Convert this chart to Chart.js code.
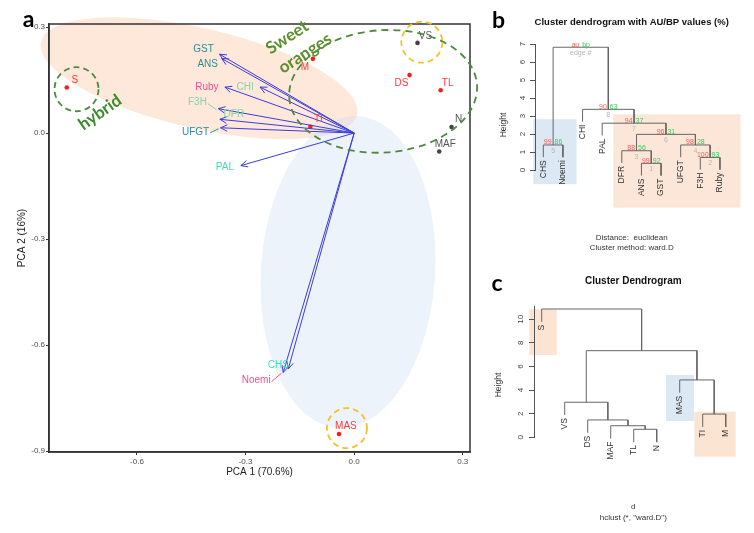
<!DOCTYPE html>
<html>
<head>
<meta charset="utf-8">
<title>PCA biplot and cluster dendrograms</title>
<script src="https://cdn.jsdelivr.net/npm/chart.js@4.4.1/dist/chart.umd.min.js"></script>
<style>
  html, body { margin: 0; padding: 0; background: #fff; }
  #wrap { position: relative; width: 754px; height: 533px; overflow: hidden; }
  canvas { position: absolute; }
  #pcaChart { left: 0; top: 0; }
  #dendroB { left: 490px; top: 0; }
  #dendroC { left: 490px; top: 260px; }
</style>
</head>
<body>
<div id="wrap">
  <canvas id="pcaChart" width="490" height="533"></canvas>
  <canvas id="dendroB" width="264" height="260"></canvas>
  <canvas id="dendroC" width="264" height="273"></canvas>
</div>
<script>
const FONT = '"Liberation Sans", Arial, sans-serif';
const LETTER_FONT = 'Lato, "Liberation Sans", sans-serif';

// ---- panel a: PCA scores (cultivars) ----
const sampleNames = ['S', 'M', 'TI', 'DS', 'TL', 'VS', 'N', 'MAF', 'MAS'];
const samplePC1 = [-0.794, -0.114, -0.121, 0.153, 0.239, 0.175, 0.269, 0.235, -0.042];
const samplePC2 = [0.129, 0.210, 0.018, 0.164, 0.121, 0.255, 0.017, -0.052, -0.851];
const sampleGroup = ['red', 'red', 'red', 'red', 'red', 'grey', 'grey', 'grey', 'red'];

// ---- panel a: loadings (genes / anthocyanin) ----
const varNames = ['GST', 'ANS', 'Ruby', 'CHI', 'F3H', 'DFR', 'UFGT', 'PAL', 'CHS', 'Noemi'];
const varPC1 = [-0.372, -0.366, -0.357, -0.260, -0.375, -0.371, -0.369, -0.313, -0.182, -0.196];
const varPC2 = [0.223, 0.211, 0.130, 0.130, 0.069, 0.039, 0.015, -0.092, -0.667, -0.677];

const pcaXTicks = [-0.6, -0.3, 0, 0.3];
const pcaYTicks = [-0.9, -0.6, -0.3, 0, 0.3];

// ---- panel b: gene dendrogram (pvclust) ----
const leavesB = ['CHS', 'Noemi', 'CHI', 'PAL', 'DFR', 'ANS', 'GST', 'UFGT', 'F3H', 'Ruby'];
const mergeB = [[-6, -7], [-9, -10], [-5, 1], [-8, 2], [-1, -2], [3, 4], [-4, 6], [-3, 7], [5, 8]];
const heightB = [0.37, 0.70, 1.07, 1.39, 1.39, 1.98, 2.60, 3.37, 6.82];
const auB = [99, 100, 88, 98, 99, 96, 94, 90];
const bpB = [92, 93, 56, 28, 86, 31, 37, 63];
const heightTicksB = [0, 1, 2, 3, 4, 5, 6, 7];

// ---- panel c: cultivar dendrogram (hclust ward.D) ----
const leavesC = ['S', 'VS', 'DS', 'MAF', 'TL', 'N', 'MAS', 'TI', 'M'];
const mergeC = [[-5, -6], [-4, 1], [-3, 2], [-8, -9], [-2, 3], [-7, 4], [5, 6], [-1, 7]];
const heightC = [0.68, 0.98, 1.47, 1.97, 2.97, 4.86, 7.34, 10.87];
const heightTicksC = [0, 2, 4, 6, 8, 10];

// ---- styling for panel a ----
const sampleColor = { red: '#ff1a1a', grey: '#444444' };
const sampleTextColor = { red: '#ff3b3b', grey: '#555555' };
const sampleLabelOffset = {
    S: [8, -7], M: [-8, 8], TI: [8, -7], DS: [-8, 8], TL: [7, -7],
    VS: [8, -7], N: [7, -8], MAF: [6, -7], MAS: [7, -8]
};
const TEAL = '#2e8b98', MINT = '#86d3a6', PINK = '#ee4f93', AQUA = '#3cdabf';
const varLabelStyle = {
    GST: { dx: -16, dy: -5, color: TEAL },
    ANS: { dx: -14, dy: 6, color: TEAL },
    Ruby: { dx: -18, dy: 0, color: PINK },
    CHI: { dx: -15, dy: 0, color: MINT },
    F3H: { dx: -21, dy: -6, color: MINT, link: true },
    DFR: { dx: 14, dy: -5, color: MINT },
    UFGT: { dx: -25, dy: 4, color: TEAL, link: true },
    PAL: { dx: -16, dy: 2, color: AQUA },
    CHS: { dx: -10, dy: -4, color: AQUA },
    Noemi: { dx: -27, dy: 8, color: PINK, link: true }
};

const shadedEllipses = [
    { cx: -0.4285, cy: 0.155, rx: 0.448, ry: 0.1416, rot: 13, fill: 'rgba(250,200,165,0.42)' },
    { cx: -0.017, cy: -0.393, rx: 0.2405, ry: 0.442, rot: 3.7, fill: 'rgba(200,222,240,0.35)' }
];
const dashedEllipses = [
    { cx: 0.080, cy: 0.118, rx: 0.26, ry: 0.173, rot: -4, color: '#4b8b3b', dash: [7, 5] },
    { cx: -0.767, cy: 0.124, rx: 0.0608, ry: 0.0623, rot: 0, color: '#4b8b3b', dash: [6, 4] },
    { cx: 0.187, cy: 0.257, rx: 0.0567, ry: 0.058, rot: 0, color: '#f6c02a', dash: [6, 4] },
    { cx: -0.020, cy: -0.8346, rx: 0.0553, ry: 0.0567, rot: 0, color: '#f6c02a', dash: [6, 4] }
];
const groupNotes = [
    { text: 'hybrid', x: -0.702, y: 0.0586, rot: -35, color: '#3c8c2c' },
    { text: 'Sweet', x: -0.185, y: 0.271, rot: -33, color: '#5b8f2d' },
    { text: 'oranges', x: -0.1355, y: 0.2258, rot: -33, color: '#5b8f2d' }
];

function text(ctx, str, x, y, font, color, align, rot) {
    ctx.save();
    ctx.translate(x, y);
    if (rot) ctx.rotate(rot * Math.PI / 180);
    ctx.font = font;
    ctx.fillStyle = color;
    ctx.textAlign = align || 'center';
    ctx.textBaseline = 'middle';
    ctx.fillText(str, 0, 0);
    ctx.restore();
}

function ellipsePath(ctx, chart, e) {
    const xs = chart.scales.x, ys = chart.scales.y;
    const cx = xs.getPixelForValue(e.cx), cy = ys.getPixelForValue(e.cy);
    const rx = Math.abs(xs.getPixelForValue(e.cx + e.rx) - cx);
    const ry = Math.abs(ys.getPixelForValue(e.cy + e.ry) - cy);
    ctx.beginPath();
    ctx.ellipse(cx, cy, rx, ry, e.rot * Math.PI / 180, 0, Math.PI * 2);
}

function arrowHead(ctx, x0, y0, x1, y1) {
    const a = Math.atan2(y1 - y0, x1 - x0), len = 7.5, ang = 0.45;
    ctx.beginPath();
    ctx.moveTo(x1 - len * Math.cos(a - ang), y1 - len * Math.sin(a - ang));
    ctx.lineTo(x1, y1);
    ctx.lineTo(x1 - len * Math.cos(a + ang), y1 - len * Math.sin(a + ang));
    ctx.stroke();
}

const pcaDecor = {
    id: 'pcaDecor',
    beforeDraw(chart) {
        const ctx = chart.ctx;
        ctx.save();
        shadedEllipses.forEach(function (e) {
            ellipsePath(ctx, chart, e);
            ctx.fillStyle = e.fill;
            ctx.fill();
        });
        ctx.restore();
    },
    afterDatasetsDraw(chart) {
        const ctx = chart.ctx;
        const xs = chart.scales.x, ys = chart.scales.y;
        const area = chart.chartArea;
        const ox = xs.getPixelForValue(0), oy = ys.getPixelForValue(0);

        ctx.save();
        ctx.strokeStyle = '#333';
        ctx.lineWidth = 1.5;
        ctx.strokeRect(area.left, area.top, area.right - area.left, area.bottom - area.top);

        // arrow heads
        ctx.strokeStyle = '#3b3bdf';
        ctx.lineWidth = 1;
        varNames.forEach(function (n, i) {
            arrowHead(ctx, ox, oy, xs.getPixelForValue(varPC1[i]), ys.getPixelForValue(varPC2[i]));
        });

        // variable labels
        varNames.forEach(function (n, i) {
            const st = varLabelStyle[n];
            const tx = xs.getPixelForValue(varPC1[i]), ty = ys.getPixelForValue(varPC2[i]);
            const lx = tx + st.dx, ly = ty + st.dy;
            if (st.link) {
                ctx.font = '10px ' + FONT;
                const half = ctx.measureText(n).width / 2;
                ctx.strokeStyle = st.color;
                ctx.beginPath();
                ctx.moveTo(lx + half + 1, ly + 1);
                ctx.lineTo(tx - 2, ty + 1);
                ctx.stroke();
            }
            text(ctx, n, lx, ly, '10px ' + FONT, st.color);
        });

        // sample labels
        sampleNames.forEach(function (n, i) {
            const off = sampleLabelOffset[n];
            text(ctx, n, xs.getPixelForValue(samplePC1[i]) + off[0], ys.getPixelForValue(samplePC2[i]) + off[1],
                '10px ' + FONT, sampleTextColor[sampleGroup[i]]);
        });

        // dashed group outlines
        dashedEllipses.forEach(function (e) {
            ellipsePath(ctx, chart, e);
            ctx.setLineDash(e.dash);
            ctx.strokeStyle = e.color;
            ctx.lineWidth = 1.8;
            ctx.stroke();
        });
        ctx.setLineDash([]);

        groupNotes.forEach(function (g) {
            text(ctx, g.text, xs.getPixelForValue(g.x), ys.getPixelForValue(g.y), 'bold 17px ' + LETTER_FONT, g.color, 'center', g.rot);
        });

        // axis titles and panel letter
        text(ctx, 'PCA 1 (70.6%)', (area.left + area.right) / 2, 472, '10px ' + FONT, '#222');
        text(ctx, 'PCA 2 (16%)', 22, (area.top + area.bottom) / 2, '10px ' + FONT, '#222', 'center', -90);
        text(ctx, 'a', 28.5, 19.5, 'bold 23px ' + LETTER_FONT, '#000');
        ctx.restore();
    }
};

const arrowSets = varNames.map(function (n, i) {
    return {
        label: n,
        data: [{ x: 0, y: 0 }, { x: varPC1[i], y: varPC2[i] }],
        showLine: true,
        borderColor: '#3b3bdf',
        borderWidth: 1,
        pointRadius: 0,
        clip: false
    };
});

const pointSets = ['red', 'grey'].map(function (g) {
    return {
        label: g,
        data: sampleNames.map(function (n, i) {
            return { x: samplePC1[i], y: samplePC2[i], g: sampleGroup[i] };
        }).filter(function (p) { return p.g === g; }),
        pointRadius: 2.3,
        pointBackgroundColor: sampleColor[g],
        pointBorderWidth: 0,
        showLine: false
    };
});

new Chart(document.getElementById('pcaChart'), {
    type: 'scatter',
    data: { datasets: arrowSets.concat(pointSets) },
    options: {
        responsive: false,
        animation: false,
        events: [],
        layout: { padding: { left: 0, top: 24, right: 20, bottom: 61 } },
        plugins: { legend: { display: false }, tooltip: { enabled: false } },
        scales: {
            x: {
                type: 'linear', min: -0.843, max: 0.32,
                afterBuildTicks: function (s) { s.ticks = pcaXTicks.map(function (v) { return { value: v }; }); },
                afterFit: function (s) { s.height = 20; },
                ticks: {
                    color: '#4d4d4d', font: { family: FONT, size: 8 }, padding: 2, maxRotation: 0,
                    callback: function (v) { return Number(v).toFixed(1); }
                },
                grid: { drawOnChartArea: false, drawTicks: true, tickLength: 3, color: '#333' },
                border: { display: true, color: '#333', width: 1.5 }
            },
            y: {
                type: 'linear', min: -0.902, max: 0.3085,
                afterBuildTicks: function (s) { s.ticks = pcaYTicks.map(function (v) { return { value: v }; }); },
                afterFit: function (s) { s.width = 49; },
                ticks: {
                    color: '#4d4d4d', font: { family: FONT, size: 8 }, padding: 1,
                    callback: function (v) { return Number(v).toFixed(1); }
                },
                grid: { drawOnChartArea: false, drawTicks: true, tickLength: 3, color: '#333' },
                border: { display: true, color: '#333', width: 1.5 }
            }
        }
    },
    plugins: [pcaDecor]
});

// ---- dendrograms ----
function buildDendrogram(merge, height, hang) {
    const nodeX = [];
    const leafBottom = {};
    const segments = [];
    merge.forEach(function (pair, i) {
        const h = height[i];
        const ends = pair.map(function (id) {
            if (id < 0) {
                leafBottom[-id] = h - hang;
                return { x: -id, y: h - hang };
            }
            return { x: nodeX[id - 1], y: height[id - 1] };
        });
        nodeX[i] = (ends[0].x + ends[1].x) / 2;
        segments.push([ends[0], { x: ends[0].x, y: h }, { x: ends[1].x, y: h }, ends[1]]);
    });
    return { nodeX: nodeX, leafBottom: leafBottom, segments: segments };
}

function makeDendrogram(canvasId, opt) {
    const tree = buildDendrogram(opt.merge, opt.height, opt.hang);

    const decor = {
        id: 'dendroDecor',
        beforeDraw(chart) {
            const ctx = chart.ctx, xs = chart.scales.x, ys = chart.scales.y;
            ctx.save();
            opt.boxes.forEach(function (b) {
                const x0 = xs.getPixelForValue(b.x0), x1 = xs.getPixelForValue(b.x1);
                const y0 = ys.getPixelForValue(b.y0), y1 = ys.getPixelForValue(b.y1);
                ctx.fillStyle = b.fill;
                ctx.fillRect(x0, y0, x1 - x0, y1 - y0);
            });
            ctx.restore();
        },
        afterDatasetsDraw(chart) {
            const ctx = chart.ctx, xs = chart.scales.x, ys = chart.scales.y;
            const left = chart.chartArea.left;
            opt.ticks.forEach(function (v) {
                text(ctx, String(v), left - opt.tickLabelGap, ys.getPixelForValue(v), '8px ' + FONT, '#444', 'center', -90);
            });
            opt.leaves.forEach(function (name, i) {
                text(ctx, name, xs.getPixelForValue(i + 1), ys.getPixelForValue(tree.leafBottom[i + 1]) + 3,
                    '8.5px ' + FONT, '#333', 'right', -90);
            });
            text(ctx, 'Height', opt.heightPos[0], opt.heightPos[1], '8.5px ' + FONT, '#333', 'center', -90);
            if (opt.extra) opt.extra(ctx, chart, tree);
        }
    };

    const sets = tree.segments.map(function (pts) {
        return {
            data: pts, showLine: true, borderColor: '#666', borderWidth: 1,
            pointRadius: 0, clip: false
        };
    });

    return new Chart(document.getElementById(canvasId), {
        type: 'scatter',
        data: { datasets: sets },
        options: {
            responsive: false,
            animation: false,
            events: [],
            layout: { padding: opt.padding },
            plugins: { legend: { display: false }, tooltip: { enabled: false } },
            scales: {
                x: { type: 'linear', display: false, min: opt.xMin, max: opt.xMax },
                y: {
                    type: 'linear', min: 0, max: opt.yMax,
                    afterBuildTicks: function (s) { s.ticks = opt.ticks.map(function (v) { return { value: v }; }); },
                    afterFit: function (s) { s.width = opt.axisWidth; },
                    ticks: { display: false },
                    grid: { drawOnChartArea: false, drawTicks: true, tickLength: 5, color: '#555' },
                    border: { display: true, color: '#555', width: 1 }
                }
            }
        },
        plugins: [decor]
    });
}

makeDendrogram('dendroB', {
    leaves: leavesB, merge: mergeB, height: heightB, hang: 0.68,
    ticks: heightTicksB, yMax: 7, xMin: 0.577, xMax: 10.36,
    padding: { left: 0, top: 44, right: 27, bottom: 90 }, axisWidth: 45,
    tickLabelGap: 12, heightPos: [14, 125],
    boxes: [
        { x0: 0.49, x1: 2.7, y0: 2.82, y1: -0.79, fill: 'rgba(205,222,240,0.7)' },
        { x0: 4.566, x1: 11.05, y0: 3.09, y1: -2.09, fill: 'rgba(250,205,175,0.5)' }
    ],
    extra: function (ctx, chart, tree) {
        const xs = chart.scales.x, ys = chart.scales.y;
        const f = '7px ' + FONT;
        tree.nodeX.forEach(function (nx, i) {
            const px = xs.getPixelForValue(nx), py = ys.getPixelForValue(heightB[i]);
            const last = i === tree.nodeX.length - 1;
            text(ctx, last ? 'au' : String(auB[i]), px - 1.5, py - 2.5, f, '#ff5a5a', 'right');
            text(ctx, last ? 'bp' : String(bpB[i]), px + 1.5, py - 2.5, f, '#2fd35e', 'left');
            text(ctx, last ? 'edge #' : String(i + 1), px, py + 6, f, '#b8b8b8', 'center');
        });
        text(ctx, 'b', 8.5, 20.5, 'bold 23px ' + LETTER_FONT, '#000');
        text(ctx, 'Cluster dendrogram with AU/BP values (%)', 141.7, 22, 'bold 9.5px ' + FONT, '#111');
        text(ctx, 'Distance:  euclidean', 141.7, 237.7, '8px ' + FONT, '#333');
        text(ctx, 'Cluster method: ward.D', 141.7, 247.7, '8px ' + FONT, '#333');
    }
});

makeDendrogram('dendroC', {
    leaves: leavesC, merge: mergeC, height: heightC, hang: 1.087,
    ticks: heightTicksC, yMax: 11.1, xMin: 0.665, xMax: 9.36,
    padding: { left: 0, top: 46.3, right: 20, bottom: 95.7 }, axisWidth: 44,
    tickLabelGap: 13.3, heightPos: [9, 125],
    boxes: [
        { x0: 0.461, x1: 1.652, y0: 10.85, y1: 6.97, fill: 'rgba(250,205,175,0.55)' },
        { x0: 6.404, x1: 7.621, y0: 5.28, y1: 1.38, fill: 'rgba(205,222,240,0.7)' },
        { x0: 7.635, x1: 9.435, y0: 2.17, y1: -1.64, fill: 'rgba(250,205,175,0.55)' }
    ],
    extra: function (ctx) {
        text(ctx, 'c', 7, 23.5, 'bold 23px ' + LETTER_FONT, '#000');
        text(ctx, 'Cluster Dendrogram', 143.3, 21.7, 'bold 10px ' + FONT, '#111');
        text(ctx, 'd', 143.3, 246.7, '8px ' + FONT, '#333');
        text(ctx, 'hclust (*, "ward.D")', 143.3, 257.3, '8px ' + FONT, '#333');
    }
});
</script>
</body>
</html>
